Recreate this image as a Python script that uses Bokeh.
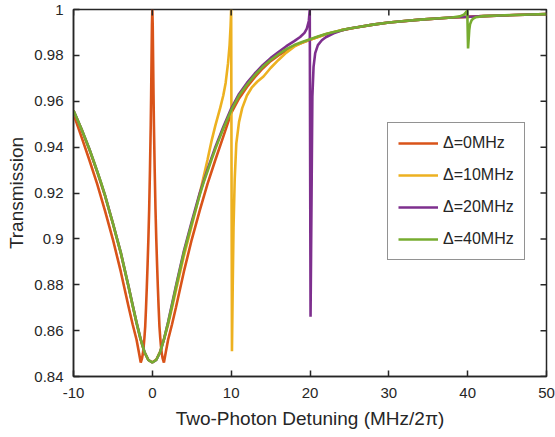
import math
from bokeh.plotting import figure
from bokeh.models import Range1d, FixedTicker, Legend, LegendItem
from bokeh.embed import file_html
from bokeh.resources import INLINE

# ---- data ----
X_TICKS = [-10, 0, 10, 20, 30, 40, 50]
X_TICK_LABELS = ["-10", "0", "10", "20", "30", "40", "50"]
Y_TICKS = [0.84, 0.86, 0.88, 0.90, 0.92, 0.94, 0.96, 0.98, 1.0]
Y_TICK_LABELS = ["0.84", "0.86", "0.88", "0.9", "0.92", "0.94", "0.96", "0.98", "1"]

# Delta = 0 MHz
x_d0 = [-10, -9, -8, -7, -6, -5, -4, -3, -2.5, -2, -1.7, -1.47, -1.3, -1.2, -1.1, -1.0,
        -0.9, -0.8, -0.7, -0.6, -0.5, -0.4, -0.3, -0.2, -0.15, -0.1, -0.05, 0,
        0.05, 0.1, 0.15, 0.2, 0.3, 0.4, 0.5, 0.6, 0.7, 0.8, 0.9, 1.0, 1.1, 1.2, 1.3,
        1.47, 1.7, 2, 2.5, 3, 4, 5, 6, 7, 8, 9, 10, 11, 12, 13, 14, 15, 16, 18, 20,
        22, 24, 26, 28, 30, 34, 38, 42, 46, 50]
y_d0 = [0.9545, 0.9446, 0.9345, 0.924, 0.9122, 0.8997, 0.8857, 0.8702, 0.8628, 0.856, 0.8505,
        0.8461, 0.848, 0.85, 0.853, 0.857, 0.862, 0.87, 0.879, 0.889, 0.9, 0.913, 0.93,
        0.95, 0.963, 0.978, 0.993, 1.0,
        0.993, 0.978, 0.963, 0.95, 0.93, 0.913, 0.9, 0.889, 0.879, 0.87, 0.862, 0.857,
        0.853, 0.85, 0.848, 0.8461, 0.8505, 0.856, 0.8628, 0.8702, 0.8857, 0.8997, 0.9122,
        0.924, 0.9345, 0.9446, 0.9548, 0.9612, 0.9662, 0.9705, 0.9743, 0.9775, 0.98, 0.9842,
        0.9868, 0.9892, 0.991, 0.9923, 0.9934, 0.9943, 0.9956, 0.9965, 0.9971, 0.9976, 0.998]

# Delta = 10 MHz
x_d10 = [-10, -9, -8, -7, -6, -5, -4, -3, -2, -1.5, -1, -0.5, 0, 0.5, 1, 1.5, 2, 3, 4, 5,
         6, 7, 7.5, 8, 8.6, 9, 9.3, 9.6, 9.8, 9.93, 10.0, 10.1, 10.2, 10.3, 10.45, 10.65,
         11.0, 11.4, 12.0, 12.6, 13.3, 14.1, 15, 16, 17, 18, 19, 20, 22, 24, 26, 28, 30,
         34, 38, 42, 46, 50]
y_d10 = [0.9558, 0.9478, 0.939, 0.9292, 0.9187, 0.9065, 0.8937, 0.8787, 0.8632, 0.8562,
         0.8505, 0.8471, 0.8462, 0.8474, 0.851, 0.8565, 0.8625, 0.8775, 0.8925, 0.9058,
         0.9195, 0.9345, 0.9425, 0.9495, 0.957, 0.9625, 0.968, 0.9765, 0.9845, 0.993, 1.0,
         0.851, 0.88, 0.905, 0.926, 0.9415, 0.951, 0.957, 0.9625, 0.9659, 0.9685, 0.9708,
         0.9745, 0.978, 0.9812, 0.9838, 0.9856, 0.9868, 0.9892, 0.991, 0.9923, 0.9934,
         0.9943, 0.9956, 0.9965, 0.9971, 0.9976, 0.998]

# Delta = 20 MHz
x_d20 = [-10, -9, -8, -7, -6, -5, -4, -3, -2, -1.5, -1, -0.5, 0, 0.5, 1, 1.5, 2, 3, 4, 5,
         6, 7, 8, 9, 10, 11, 12, 13, 14, 15, 16, 17, 18, 18.75, 19.3, 19.6, 19.85, 19.97,
         20.07, 20.2, 20.3, 20.45, 20.66, 21, 21.5, 22, 23, 24, 25, 26, 28, 30, 34, 38,
         42, 46, 50]
y_d20 = [0.956, 0.948, 0.9393, 0.9295, 0.919, 0.9068, 0.894, 0.879, 0.8635, 0.8565, 0.8507,
         0.8472, 0.8461, 0.8472, 0.8507, 0.8565, 0.8637, 0.8795, 0.8947, 0.9075, 0.9198,
         0.9303, 0.9401, 0.9488, 0.9568, 0.9632, 0.968, 0.9721, 0.9757, 0.9788, 0.9815,
         0.984, 0.9862, 0.988, 0.9898, 0.9917, 0.995, 1.0, 0.866, 0.92, 0.962, 0.975,
         0.981, 0.9845, 0.9866, 0.9879, 0.9896, 0.9908, 0.9917, 0.9923, 0.9934, 0.9943,
         0.9956, 0.9965, 0.9971, 0.9976, 0.998]

# Delta = 40 MHz
x_d40 = [-10, -9.5, -9, -8.5, -8, -7.5, -7, -6.5, -6, -5.5, -5, -4.5, -4, -3.5, -3, -2.5,
         -2, -1.5, -1, -0.5, 0, 0.5, 1, 1.5, 2, 2.5, 3, 3.5, 4, 4.5, 5, 5.5, 6, 6.5, 7, 7.5,
         8, 8.5, 9, 9.5, 10, 11, 12, 13, 14, 15, 16, 17, 18, 19, 20, 21, 22, 23, 24, 25, 26,
         28, 30, 32, 34, 36, 38, 39, 39.5, 39.8, 39.95, 40.05, 40.2, 40.3, 40.5, 40.7, 41,
         42, 44, 46, 48, 50]
y_d40 = [0.956, 0.952, 0.948, 0.9437, 0.9393, 0.9345, 0.9295, 0.9245, 0.919, 0.9128,
         0.9068, 0.9003, 0.894, 0.8865, 0.879, 0.871, 0.8635, 0.8565, 0.8507, 0.8472,
         0.8461, 0.8472, 0.8507, 0.8565, 0.8635, 0.871, 0.879, 0.8865, 0.894, 0.9003,
         0.9068, 0.9128, 0.919, 0.9245, 0.9295, 0.9345, 0.9393, 0.9437, 0.948, 0.952,
         0.956, 0.9625, 0.9672, 0.9714, 0.975, 0.978, 0.9805, 0.9827, 0.9845, 0.9858,
         0.987, 0.9882, 0.9893, 0.9902, 0.991, 0.9917, 0.9923, 0.9934, 0.9943, 0.995,
         0.9956, 0.9961, 0.9965, 0.997, 0.9977, 0.9988, 0.9996, 0.983, 0.991, 0.9935,
         0.9953, 0.996, 0.9966, 0.9971, 0.9974, 0.9976, 0.9978, 0.998]

SERIES = [
    ("Δ=0MHz", x_d0, y_d0, "#D95319"),
    ("Δ=10MHz", x_d10, y_d10, "#EDB120"),
    ("Δ=20MHz", x_d20, y_d20, "#7E2F8E"),
    ("Δ=40MHz", x_d40, y_d40, "#77AC30"),
]

FONT = "Liberation Sans"
TXT = "#262626"

p = figure(width=555, height=437, output_backend="svg", toolbar_location=None,
           x_range=Range1d(X_TICKS[0], X_TICKS[-1]), y_range=Range1d(Y_TICKS[0], Y_TICKS[-1]),
           min_border_left=73, min_border_right=9, min_border_top=9, min_border_bottom=61,
           background_fill_color="white", border_fill_color="white")
p.grid.visible = False
p.outline_line_color = TXT
p.outline_line_width = 1.5

renderers = []
for label, xs, ys, color in SERIES:
    r = p.line(xs, ys, line_color=color, line_width=2.6)
    renderers.append((label, r))

# inward ticks on the top and right frame edges (box on)
p.ray(x=X_TICKS, y=[Y_TICKS[-1]] * len(X_TICKS), length=6, length_units="screen",
      angle=-math.pi / 2, line_color=TXT, line_width=1.5)
p.ray(x=[X_TICKS[-1]] * len(Y_TICKS), y=Y_TICKS, length=6, length_units="screen",
      angle=math.pi, line_color=TXT, line_width=1.5)

def style_axis(ax, ticks, labels):
    ax.ticker = FixedTicker(ticks=ticks)
    ax.major_tick_in = 6
    ax.major_tick_out = 0
    ax.minor_tick_in = 0
    ax.minor_tick_out = 0
    ax.minor_tick_line_color = None
    ax.axis_line_color = TXT
    ax.axis_line_width = 1.5
    ax.major_tick_line_color = TXT
    ax.major_tick_line_width = 1.5
    ax.major_label_text_font = FONT
    ax.major_label_text_color = TXT
    ax.major_label_overrides = {t: l for t, l in zip(ticks, labels)}
    ax.major_label_text_font_size = "15px"
    ax.axis_label_text_font = FONT
    ax.axis_label_text_font_size = "19px"
    ax.axis_label_text_font_style = "normal"
    ax.axis_label_text_color = TXT

xa = p.xaxis[0]
style_axis(xa, X_TICKS, X_TICK_LABELS)
xa.major_label_standoff = 11
xa.axis_label = "Two-Photon Detuning (MHz/2π)"
xa.axis_label_standoff = 7
ya = p.yaxis[0]
style_axis(ya, Y_TICKS, Y_TICK_LABELS)
ya.major_label_standoff = 10
ya.axis_label = "Transmission"
ya.axis_label_standoff = 4

legend = Legend(items=[LegendItem(label=l, renderers=[r]) for l, r in renderers],
                location=(314, 116), margin=0, padding=10, spacing=12,
                glyph_width=40, glyph_height=20, label_height=20, label_standoff=5,
                label_text_font=FONT, label_text_font_size="16px", label_text_color=TXT,
                border_line_color=TXT, border_line_width=1.5,
                background_fill_color="white", background_fill_alpha=1.0)
p.add_layout(legend)

open("out.html", "w").write(file_html(p, INLINE))
